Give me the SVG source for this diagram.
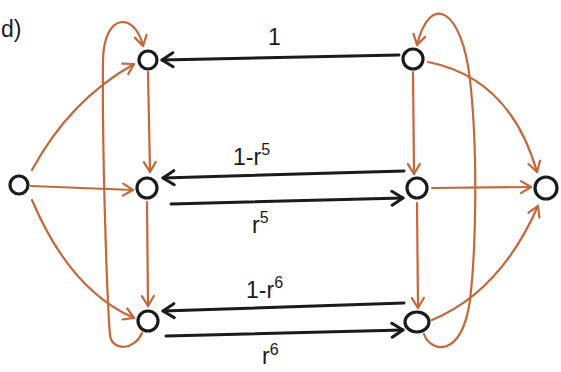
<svg xmlns="http://www.w3.org/2000/svg" width="561" height="372" viewBox="0 0 561 372">
<style>
.node{fill:#fff;stroke:#1c1a1a;stroke-width:3.2}
.or{fill:none;stroke:#c5673b;stroke-width:2.2;stroke-linecap:round}
.bk{fill:none;stroke:#1c1a1a;stroke-width:3;stroke-linecap:round}
.lbl{font-family:"Liberation Sans",Arial,sans-serif;fill:#1c1a1a;font-size:23px}
.sup{font-size:16px}
</style>
<defs>
<marker id="ao" viewBox="-12 -8 14 16" markerWidth="14" markerHeight="16" refX="0" refY="0" orient="auto" markerUnits="userSpaceOnUse">
<polyline points="-10,-6 0,0 -10,6" fill="none" stroke="#c5673b" stroke-width="2.2" stroke-linecap="round" stroke-linejoin="round"/>
</marker>
<marker id="ab" viewBox="-14 -9 16 18" markerWidth="16" markerHeight="18" refX="0" refY="0" orient="auto" markerUnits="userSpaceOnUse">
<polyline points="-11,-7 0,0 -11,7" fill="none" stroke="#1c1a1a" stroke-width="3" stroke-linecap="round" stroke-linejoin="round"/>
</marker>
</defs>
<text class="lbl" x="1" y="37" font-size="24">d)</text>
<g id="connectors">
<path class="or" d="M32,170 Q70,100 134,64" marker-end="url(#ao)"/>
<path class="or" d="M31,186 L133,190" marker-end="url(#ao)"/>
<path class="or" d="M32,200 Q70,290 134,318" marker-end="url(#ao)"/>
<path class="or" d="M148,72 L150,172" marker-end="url(#ao)"/>
<path class="or" d="M147,202 L148,306" marker-end="url(#ao)"/>
<path class="or" d="M142,333 C135,350 112,352 110,335 C107,300 102,150 103,60 C104,12 135,12 143,46" marker-end="url(#ao)"/>
<path class="or" d="M413,72 L414,174" marker-end="url(#ao)"/>
<path class="or" d="M417,203 L418,308" marker-end="url(#ao)"/>
<path class="or" d="M424,334 C430,352 462,360 470,300 C476,250 478,150 470,80 C462,8 430,-8 417,45" marker-end="url(#ao)"/>
<path class="or" d="M428,62 Q510,78 537,172" marker-end="url(#ao)"/>
<path class="or" d="M432,188 L531,187" marker-end="url(#ao)"/>
<path class="or" d="M432,320 Q500,292 538,206" marker-end="url(#ao)"/>
<path class="bk" d="M399,55 L162,60" marker-end="url(#ab)"/>
<path class="bk" d="M404,171 L163,178" marker-end="url(#ab)"/>
<path class="bk" d="M171,204 L403,198" marker-end="url(#ab)"/>
<path class="bk" d="M404,303 L163,311" marker-end="url(#ab)"/>
<path class="bk" d="M166,336 L403,330" marker-end="url(#ab)"/>
</g>
<g id="labels">
<text class="lbl" x="268" y="45">1</text>
<text class="lbl" x="233" y="165">1-r<tspan class="sup" dy="-10">5</tspan></text>
<text class="lbl" x="252" y="233">r<tspan class="sup" dy="-10">5</tspan></text>
<text class="lbl" x="246" y="298">1-r<tspan class="sup" dy="-10">6</tspan></text>
<text class="lbl" x="262" y="364">r<tspan class="sup" dy="-9">6</tspan></text>
</g>
<g id="nL"><circle class="node" cx="19" cy="185" r="9"/></g>
<g id="nA1"><circle class="node" cx="148" cy="60" r="9"/></g>
<g id="nA2"><circle class="node" cx="147" cy="188" r="10"/></g>
<g id="nA3"><circle class="node" cx="148" cy="321" r="10"/></g>
<g id="nB1"><circle class="node" cx="413" cy="59" r="10"/></g>
<g id="nB2"><circle class="node" cx="417" cy="188" r="10"/></g>
<g id="nB3"><ellipse class="node" cx="417" cy="322" rx="12" ry="10"/></g>
<g id="nR"><circle class="node" cx="546" cy="188" r="11"/></g>
</svg>
